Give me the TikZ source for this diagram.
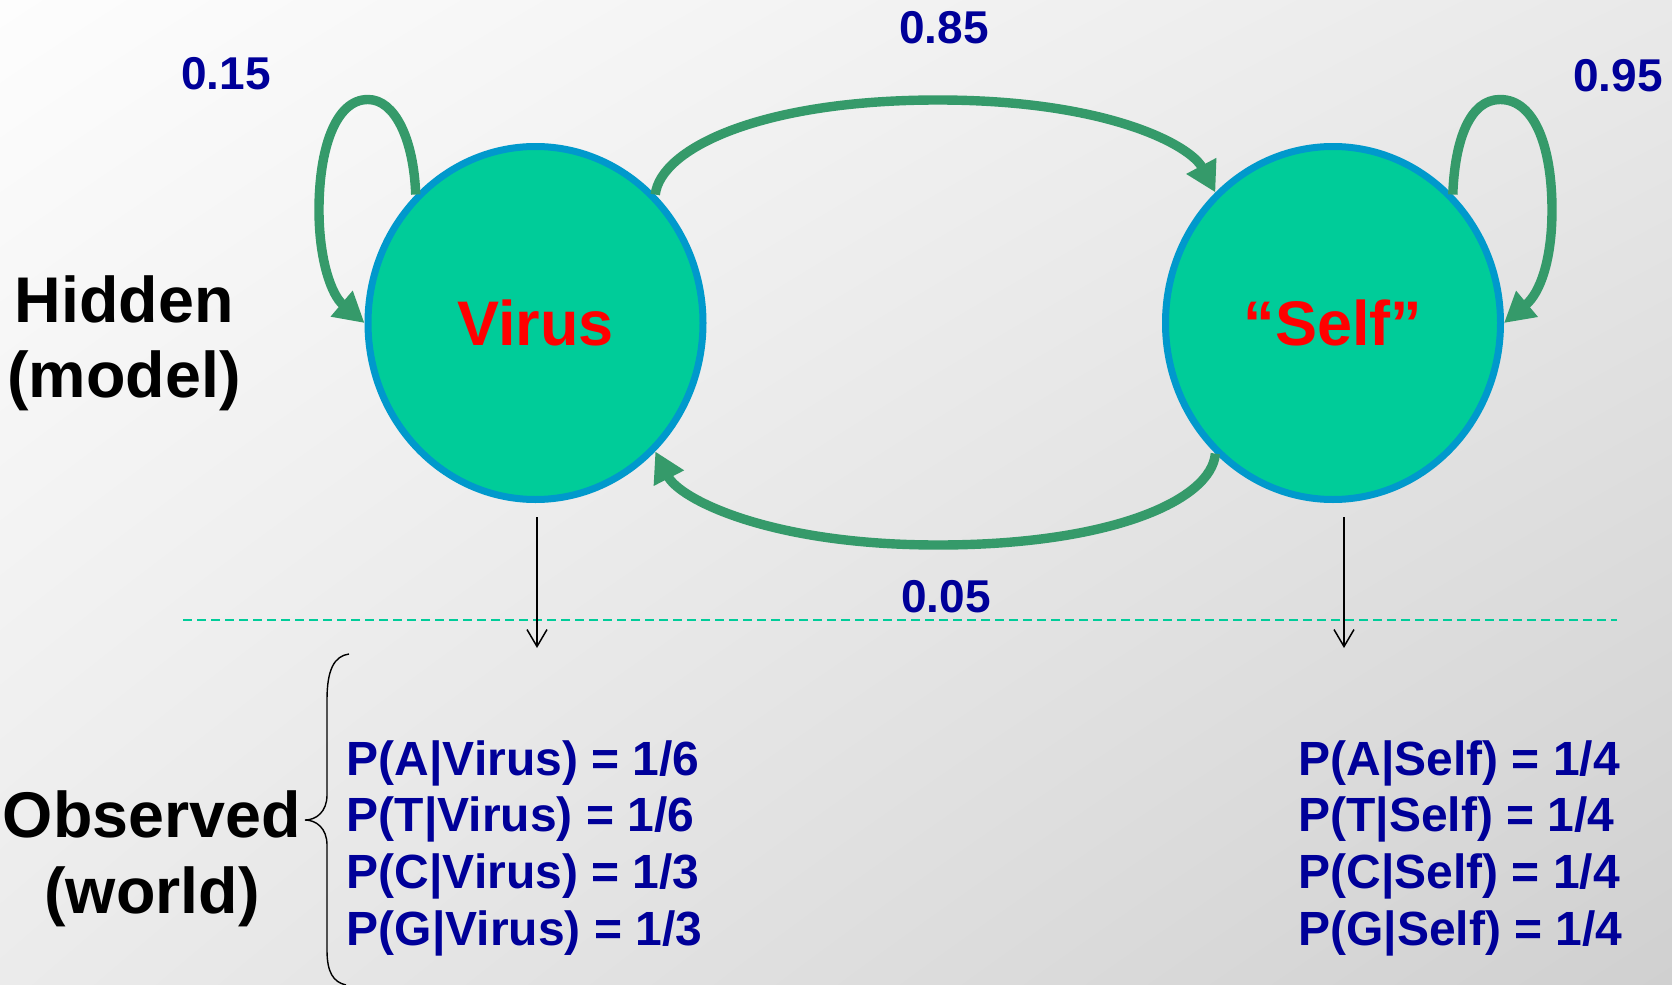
\documentclass[tikz,border=0pt]{standalone}
\usepackage{fontspec}
\setmainfont{Liberation Sans}
\usetikzlibrary{arrows.meta,shapes.geometric,shadings}

\definecolor{statefill}{HTML}{00CC99}
\definecolor{stateline}{HTML}{0099CC}
\definecolor{transgreen}{HTML}{359A6A}
\definecolor{probblue}{HTML}{000099}
\definecolor{divcolor}{HTML}{00CC99}
\definecolor{bgUL}{HTML}{FDFDFD}
\definecolor{bgUR}{HTML}{E9E9E9}
\definecolor{bgLL}{HTML}{EBEBEB}
\definecolor{bgLR}{HTML}{D0D0D0}

\begin{document}
\begin{tikzpicture}[x=0.5pt,y=-0.5pt,
  state/.style={ellipse, draw=stateline, fill=statefill, line width=3.5pt,
    minimum width=167.5pt, minimum height=176.5pt, inner sep=0pt,
    text=red, font=\fontsize{31.5}{36}\selectfont\bfseries},
  trans/.style={draw=transgreen, line width=4.7pt,
    -{Triangle[width=16pt,length=15pt]}},
  prob/.style={text=probblue, font=\fontsize{23}{27}\selectfont\bfseries, inner sep=0pt},
  side/.style={font=\fontsize{32.3}{38}\selectfont\bfseries, inner sep=0pt, anchor=base},
  cond/.style={text=probblue, font=\fontsize{24}{28}\selectfont\bfseries,
    inner sep=0pt, anchor=base west},
  emit/.style={draw=black, line width=0.75pt,
    -{Straight Barb[length=8.5pt,width=10pt]}},
  divider/.style={draw=divcolor, line width=1pt, dash pattern=on 4.5pt off 2.5pt},
  bracestroke/.style={draw=black, line width=0.7pt}
]
\useasboundingbox (0,0) rectangle (1672,985);
\shade[upper left=bgUL, upper right=bgUR, lower left=bgLL, lower right=bgLR]
  (0,0) rectangle (1672,985);

% hidden states
\node[state] (v) at (535.5,323) {Virus};
\node[state] (s) at (1333,323) {``Self''};

% transition probabilities
\node[prob] (p15) at (226,74) {0.15};
\node[prob] (p85) at (944,27.5) {0.85};
\node[prob] (p95) at (1618,76) {0.95};
\node[prob] (p05) at (946,596.5) {0.05};

% loop and cross transitions
\coordinate (vtop) at (368,99.5);
\coordinate (vside) at (319,210);
\coordinate (stop) at (1500,99.5);
\coordinate (sside) at (1552,210);
\coordinate (arcup) at (938,100);
\coordinate (arcdown) at (938,545);

\draw[trans] (v.133) .. controls +(-2,-55) and +(27,0) .. (vtop)
  .. controls +(-33,0) and +(0,-60) .. (vside)
  .. controls +(0,50) and +(-33,-28) .. (v.west);
\draw[trans] (s.47) .. controls +(2,-55) and +(-30,0) .. (stop)
  .. controls +(36,0) and +(0,-60) .. (sside)
  .. controls +(0,50) and +(36,-30) .. (s.east);
\draw[trans] (v.47) .. controls +(5,-45) and +(-180,0) .. (arcup)
  .. controls +(170,0) and +(-25,-47) .. (s.132);
\draw[trans] (s.228) .. controls +(-4,47) and +(172,0) .. (arcdown)
  .. controls +(-170,0) and +(24,47) .. (v.313);

% hidden / observed divider
\draw[divider] (183,620) -- (1617,620);

% emissions
\coordinate (vobs) at (537,648);
\coordinate (sobs) at (1344,648);
\draw[emit] ([xshift=0.75pt,yshift=-7pt]v.south) -- (vobs);
\draw[emit] ([xshift=5.5pt,yshift=-7pt]s.south) -- (sobs);

% side labels
\node[side] (hid1) at (124,322) {Hidden};
\node[side] (hid2) at (124,397) {(model)};
\node[side] (obs1) at (152,837) {Observed};
\node[side] (obs2) at (152,913) {(world)};

% brace grouping the observations
\draw[bracestroke] (349,654) .. controls (334,656) and (327,670) .. (327,700)
  -- (327,795) .. controls (327,812) and (316,820) .. (305,820)
  .. controls (316,820) and (327,828) .. (327,845)
  -- (327,950) .. controls (327,972) and (333,982) .. (346,985);

% emission probabilities
\foreach \b/\q [count=\i] in {A/6,T/6,C/3,G/3}
  \node[cond] (pv\i) at (346.5,{775+56.7*(\i-1)}) {P(\b|Virus) = 1/\q};
\foreach \b [count=\i] in {A,T,C,G}
  \node[cond] (ps\i) at (1298,{775+56.7*(\i-1)}) {P(\b|Self) = 1/4};
\end{tikzpicture}
\end{document}
